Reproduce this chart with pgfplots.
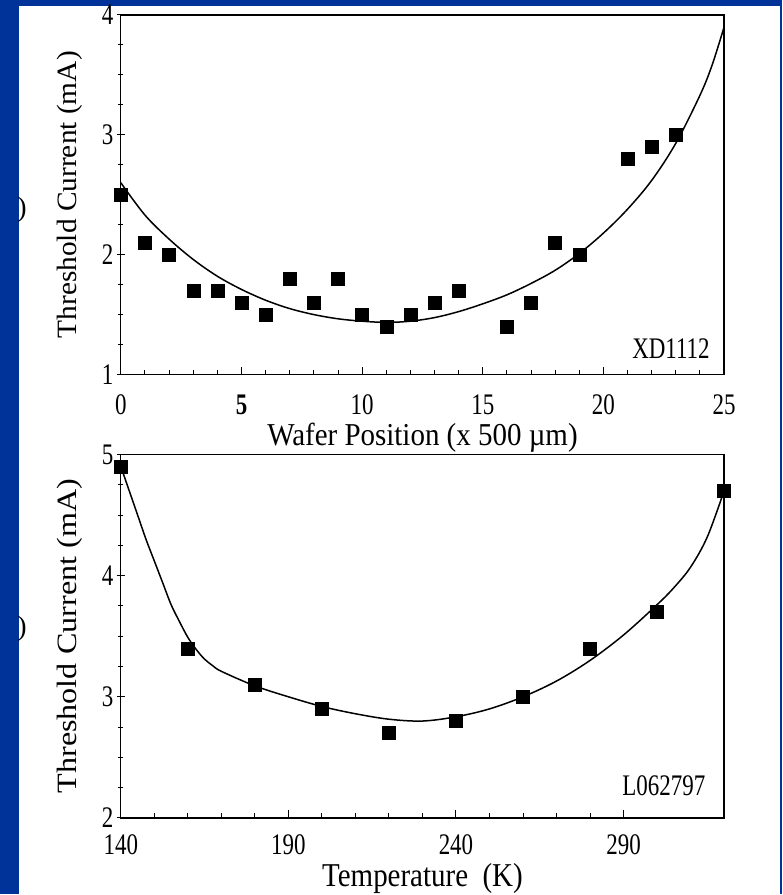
\documentclass[border=0pt]{standalone}
\usepackage{pgfplots}
\pgfplotsset{compat=1.18}
\usepackage{graphicx}
\usepackage{fontspec}
\setmainfont{Liberation Serif}

\definecolor{slideblue}{RGB}{0,51,153}
% the scanned figure is stretched upright a little
\newcommand\tl[1]{\scalebox{1}[1.3]{#1}}

% common look of both panels
\pgfplotsset{
  panel/.style={
    scale only axis, width=604pt,
    clip=false,
    xtick pos=bottom, ytick pos=left,
    tick align=inside,
    y tick style={/pgfplots/tick align=center},
    major tick length=8pt, minor tick length=5pt,
    axis line style={line width=1.3pt},
    every tick/.style={black, line width=1pt},
    minor y tick num=3,
    /pgf/number format/assume math mode=true,
    ticklabel style={font=\fontsize{23}{25}\selectfont},
    yticklabel style={xshift=-4pt},
    yticklabel={\tl{\pgfmathprintnumber{\tick}}},
    label style={font=\fontsize{28}{30}\selectfont},
  },
  pts/.style={only marks, mark=square*, mark size=6.5pt, black},
  fit/.style={no markers, smooth, tension=0.55, black, line width=1.5pt},
}

\begin{document}
\begin{tikzpicture}[x=1pt,y=1pt]
\fill[slideblue] (0,0) rectangle (783,895);
\fill[white] (19,0) rectangle (781,889);
\node[font=\fontsize{28}{30}\selectfont] at (22,685) {)};
\node[font=\fontsize{28}{30}\selectfont] at (22,265) {)};

% top panel
\begin{axis}[panel,
  at={(121pt,520pt)}, anchor=south west, height=360pt,
  xmin=0, xmax=25, ymin=1, ymax=4,
  xtick={0,5,...,25},
  xticklabels={\tl{0},\tl{\textbf{5}},\tl{10},\tl{15},\tl{20},\tl{25}},
  xticklabel style={yshift=-17pt},
  minor x tick num=4, ytick={1,2,3,4},
  xlabel={\scalebox{1}[1.1]{Wafer Position (x 500 µm)}},
  xlabel style={at={(axis description cs:0.5,0)}, anchor=center, yshift=-63pt, font=\fontsize{29}{31}\selectfont},
  ylabel={\scalebox{1.05}[1]{Threshold Current (mA)}},
  ylabel style={at={(axis description cs:-0.0845,0.5)}, anchor=center},
]
\addplot[pts] coordinates {
  (0,2.5)(1,2.1)(2,2.0)(3,1.7)(4,1.7)(5,1.6)(6,1.5)(7,1.8)(8,1.6)(9,1.8)
  (10,1.5)(11,1.4)(12,1.5)(13,1.6)(14,1.7)(16,1.4)(17,1.6)(18,2.1)(19,2.0)
  (21,2.8)(22,2.9)(23,3.0)};
\addplot[fit] coordinates {
  (0,2.60)(1,2.33)(2,2.13)(3,1.96)(4,1.82)(5,1.71)(6,1.62)(7,1.55)(8,1.50)
  (9,1.465)(10,1.445)(11,1.435)(12,1.445)(13,1.475)(14,1.525)(15,1.59)
  (16,1.665)(17,1.76)(18,1.87)(19,2.01)(20,2.18)(21,2.38)(22,2.62)(23,2.93)
  (24,3.33)(24.5,3.58)(25,3.90)};
\node[font=\fontsize{23}{25}\selectfont] at (axis cs:22.8,1.22) {\tl{XD1112}};
\end{axis}

% bottom panel
\begin{axis}[panel,
  at={(121pt,76pt)}, anchor=south west, height=364pt,
  xmin=140, xmax=320, ymin=2, ymax=5,
  xtick={140,190,240,290}, minor x tick num=4, ytick={2,3,4,5},
  xticklabel={\tl{\pgfmathprintnumber{\tick}}},
  xticklabel style={yshift=-13pt},
  xlabel={\scalebox{1}[1.15]{Temperature\ \ (K)}},
  xlabel style={at={(axis description cs:0.5,0)}, anchor=center, yshift=-61pt, inner sep=1pt, font=\fontsize{29}{31}\selectfont},
  ylabel={\scalebox{1.15}[1]{Threshold Current (mA)}},
  ylabel style={at={(axis description cs:-0.0845,0.5)}, anchor=center},
]
\addplot[pts] coordinates {
  (140,4.9)(160,3.4)(180,3.1)(200,2.9)(220,2.7)(240,2.8)(260,3.0)
  (280,3.4)(300,3.7)(320,4.7)};
\addplot[fit] coordinates {
  (140,4.90)(142.5,4.70)(145,4.50)(147.5,4.30)(150,4.12)(152.5,3.94)
  (155,3.76)(157.5,3.62)(160,3.49)(162.5,3.39)(165,3.31)(167.5,3.255)
  (170,3.21)(180,3.09)(190,3.00)
  (200,2.92)(210,2.86)(220,2.815)(230,2.80)(240,2.835)(250,2.90)(260,3.00)
  (270,3.13)(280,3.30)(290,3.51)(300,3.76)(305,3.90)(310,4.07)(315,4.32)
  (320,4.70)};
\node[font=\fontsize{23}{25}\selectfont] at (axis cs:302,2.27) {\tl{L062797}};
\end{axis}
\end{tikzpicture}
\end{document}
